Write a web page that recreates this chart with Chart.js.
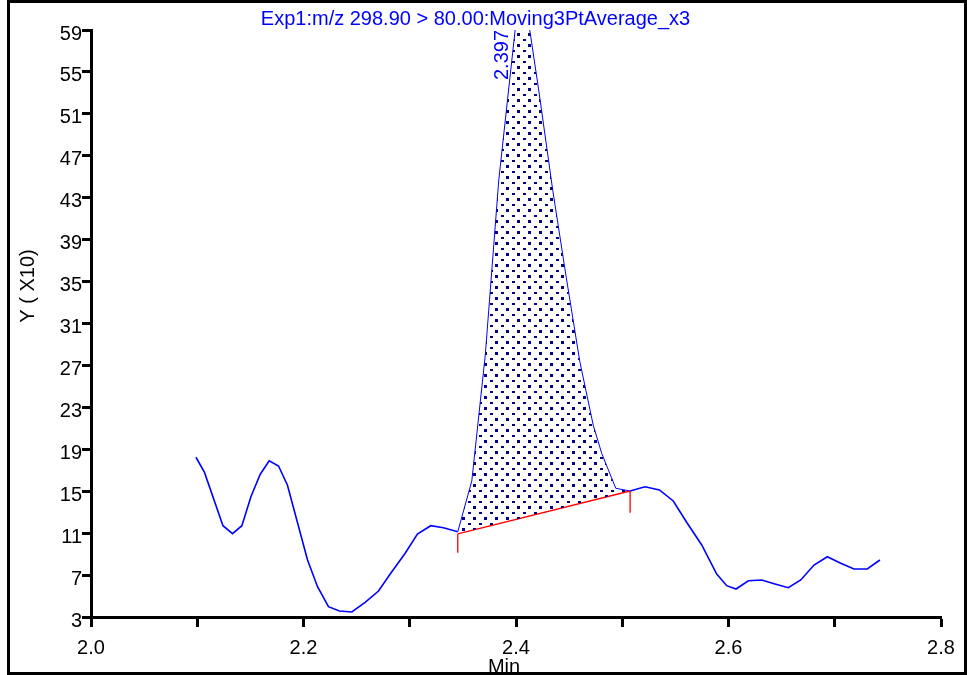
<!DOCTYPE html>
<html>
<head>
<meta charset="utf-8">
<script src="https://cdn.jsdelivr.net/npm/chart.js@4.4.1/dist/chart.umd.min.js"></script>
<style>
  html, body { margin: 0; padding: 0; background: #fff; }
  canvas { display: block; }
</style>
</head>
<body>
<canvas id="chrom" width="971" height="675"></canvas>
<script>
// ---------- data ----------
var titleText = 'Exp1:m/z 298.90 > 80.00:Moving3PtAverage_x3';
var yTitle = 'Y ( X10)';
var xTitle = 'Min';

var timeMin = [2.0988, 2.1069, 2.1242, 2.1332, 2.1420, 2.1505, 2.1593, 2.1677, 2.1765, 2.1849,
               2.2038, 2.2132, 2.2235, 2.2338, 2.2455, 2.2580, 2.2706, 2.2816, 2.2957, 2.3072,
               2.3198, 2.3317, 2.3452, 2.3584, 2.3711, 2.3838, 2.4050, 2.4219, 2.4346, 2.4473,
               2.4600, 2.4727, 2.4807, 2.4939, 2.5074, 2.5214, 2.5350, 2.5480, 2.5612, 2.5748,
               2.5889, 2.5983, 2.6071, 2.6187, 2.6312, 2.6437, 2.6563, 2.6680, 2.6805, 2.6930,
               2.7056, 2.7181, 2.7306, 2.7425];
var intensity = [18.24, 16.77, 11.71, 10.95, 11.71, 14.48, 16.62, 17.91, 17.41, 15.57,
                 8.44, 5.89, 3.98, 3.57, 3.48, 4.40, 5.48, 7.10, 9.08, 10.92,
                 11.71, 11.52, 11.14, 15.98, 28.0, 44.7, 64.4, 52.9, 43.7, 35.4,
                 27.4, 21.3, 18.6, 15.28, 15.02, 15.43, 15.12, 14.07, 11.94, 9.87,
                 7.10, 5.99, 5.67, 6.46, 6.53, 6.15, 5.79, 6.53, 7.96, 8.75,
                 8.12, 7.58, 7.58, 8.44];

// integration baseline (start / end) and the little drop marks under it
var baseTime = [2.3452, 2.5074];
var baseLevel = [10.92, 15.02];
var dropLevel = [9.14, 12.95];

var apexTime = 2.397;
var apexLabel = '2.397';

var xLabels = ['2.0', '2.2', '2.4', '2.6', '2.8'];

// ---------- build datasets ----------
var curve = timeMin.map(function (t, i) { return { x: t, y: intensity[i] }; });
var peak = curve.filter(function (p) { return p.x >= baseTime[0] && p.x <= baseTime[1]; });
var baseline = baseTime.map(function (t, i) { return { x: t, y: baseLevel[i] }; });

function inPeak(ctx) {
    return ctx.p0.parsed.x >= baseTime[0] && ctx.p1.parsed.x <= baseTime[1];
}

// dotted hatch used by the integrated area
function dotPattern() {
    var c = document.createElement('canvas');
    c.width = 11; c.height = 11;
    var g = c.getContext('2d');
    g.fillStyle = '#000080';
    g.fillRect(0, 0, 3, 3);
    g.fillRect(6, 6, 3, 2);
    return g.createPattern(c, 'repeat');
}

var FONT = '"Liberation Sans", Arial, sans-serif';

var decorations = {
    id: 'decorations',
    afterDraw: function (chart) {
        var ctx = chart.ctx, area = chart.chartArea, xs = chart.scales.x;
        ctx.save();
        ctx.font = '20px ' + FONT;
        ctx.fillStyle = '#0000ff';
        ctx.textAlign = 'center';
        ctx.textBaseline = 'alphabetic';
        ctx.fillText(titleText, 475.5, 25);

        // retention time of the apex
        ctx.save();
        ctx.translate(xs.getPixelForValue(apexTime) - 5, area.top);
        ctx.rotate(-Math.PI / 2);
        ctx.textAlign = 'right';
        ctx.fillText(apexLabel, 0, 0);
        ctx.restore();

        ctx.fillStyle = '#000';
        ctx.fillText(xTitle, 504, 673);

        ctx.save();
        ctx.translate(28, 286);
        ctx.rotate(-Math.PI / 2);
        ctx.textBaseline = 'middle';
        ctx.fillText(yTitle, 0, 0);
        ctx.restore();

        // outer frame
        ctx.lineWidth = 3;
        ctx.strokeStyle = '#000';
        ctx.strokeRect(8.5, 1.5, 957, 672);
        ctx.restore();
    }
};

var ctx = document.getElementById('chrom');

var chart = new Chart(ctx, {
    type: 'line',
    data: {
        datasets: [
            {
                data: peak,
                borderColor: 'rgba(0,0,0,0)',
                borderWidth: 1,
                backgroundColor: dotPattern(),
                fill: '+1',
                pointRadius: 0
            },
            {
                data: baseline,
                borderColor: '#ff0000',
                borderWidth: 1.3,
                pointRadius: 0,
                fill: false
            },
            {
                data: curve,
                borderColor: '#0000ff',
                borderWidth: 1.6,
                pointRadius: 0,
                fill: false,
                segment: {
                    borderWidth: function (c) { return inPeak(c) ? 1 : undefined; }
                }
            },
            {
                data: [{ x: baseTime[0], y: baseLevel[0] }, { x: baseTime[0], y: dropLevel[0] }],
                borderColor: '#ff0000',
                borderWidth: 1.3,
                pointRadius: 0,
                fill: false
            },
            {
                data: [{ x: baseTime[1], y: baseLevel[1] }, { x: baseTime[1], y: dropLevel[1] }],
                borderColor: '#ff0000',
                borderWidth: 1.3,
                pointRadius: 0,
                fill: false
            }
        ]
    },
    options: {
        responsive: false,
        maintainAspectRatio: false,
        animation: false,
        events: [],
        layout: { padding: { top: 30, right: 30, bottom: 0, left: 0 } },
        plugins: {
            legend: { display: false },
            tooltip: { enabled: false },
            title: { display: false }
        },
        scales: {
            x: {
                type: 'linear',
                min: 2.0,
                max: 2.8,
                border: { color: '#000', width: 3 },
                grid: { drawOnChartArea: false, tickLength: 10, tickWidth: 3, tickColor: '#000' },
                ticks: {
                    stepSize: 0.1,
                    autoSkip: false,
                    maxRotation: 0,
                    padding: 9,
                    color: '#000',
                    font: { family: FONT, size: 20 },
                    callback: function (v) {
                        var k = Math.round(v * 10);
                        return k % 2 === 0 ? xLabels[(k - 20) / 2] : '';
                    }
                },
                afterFit: function (s) { s.height = 58; }
            },
            y: {
                min: 3,
                max: 59,
                border: { color: '#000', width: 3 },
                grid: { drawOnChartArea: false, tickLength: 9, tickWidth: 3, tickColor: '#000' },
                ticks: {
                    stepSize: 4,
                    padding: 0,
                    labelOffset: 4,
                    color: '#000',
                    font: { family: FONT, size: 20 }
                },
                afterFit: function (s) { s.width = 91; }
            }
        }
    },
    plugins: [decorations]
});
</script>
</body>
</html>
